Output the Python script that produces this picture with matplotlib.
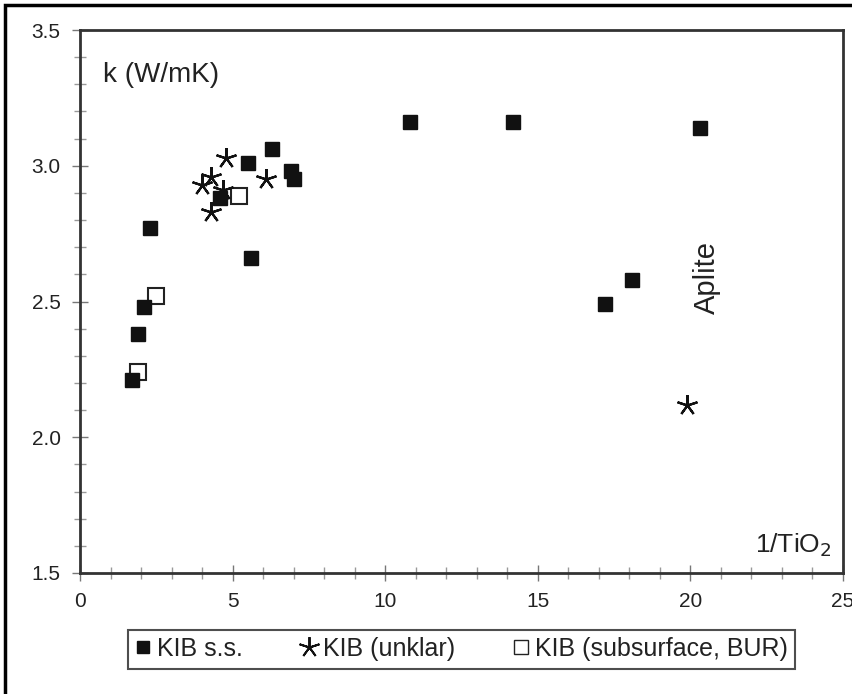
import matplotlib.pyplot as plt
from matplotlib.lines import Line2D
from matplotlib.patches import Rectangle

plt.rcParams['font.family'] = ['Liberation Sans', 'DejaVu Sans']

# KIB s.s. (filled squares)
ss_x = [1.7, 1.9, 2.1, 2.3, 4.6, 5.5, 6.3, 6.9, 7.0, 5.6, 10.8, 14.2, 17.2, 18.1, 20.3]
ss_y = [2.21, 2.38, 2.48, 2.77, 2.88, 3.01, 3.06, 2.98, 2.95, 2.66, 3.16, 3.16, 2.49, 2.58, 3.14]

# KIB (unklar) (asterisks)
unk_x = [4.8, 4.3, 4.0, 4.3, 4.7, 6.1, 19.9]
unk_y = [3.03, 2.96, 2.93, 2.83, 2.91, 2.95, 2.12]

# KIB (subsurface, BUR) (open squares)
sub_x = [5.2, 2.5, 1.9]
sub_y = [2.89, 2.52, 2.24]

labels = ['KIB s.s.', 'KIB (unklar)', 'KIB (subsurface, BUR)']

W, H = 853, 694
fig = plt.figure(figsize=(W / 100, H / 100), dpi=100)
ax = fig.add_axes([80 / W, 1 - 573 / H, (843 - 80) / W, (573 - 30) / H])

star = (5, 2, 0)
ax.plot(sub_x, sub_y, 's', ms=12, mfc='white', mec='#222222', mew=1.5, ls='none', zorder=2)
ax.plot(unk_x, unk_y, marker=star, ms=15, color='#111111', mew=1.6, ls='none', zorder=3)
ax.plot(ss_x, ss_y, 's', ms=10, color='#111111', ls='none', zorder=4)

ax.set_xlim(0, 25)
ax.set_ylim(1.5, 3.5)
ax.set_xticks([0, 5, 10, 15, 20, 25])
ax.set_yticks([1.5, 2.0, 2.5, 3.0, 3.5])
ax.set_yticklabels(['1.5', '2.0', '2.5', '3.0', '3.5'])
ax.set_xticks(range(0, 26), minor=True)
ax.set_yticks([1.5 + 0.1 * i for i in range(21)], minor=True)
ax.tick_params(which='major', direction='inout', length=12, width=1, color='#777777',
               labelsize=15, labelcolor='#222222', pad=8)
ax.tick_params(which='minor', direction='inout', length=8, width=1, color='#999999')
for s in ax.spines.values():
    s.set_linewidth(2)
    s.set_color('#333333')

ax.text(0.03, 0.905, 'k (W/mK)', transform=ax.transAxes, fontsize=20, color='#222222')
ax.text(0.985, 0.025, '1/TiO$_2$', transform=ax.transAxes, fontsize=19, color='#222222',
        ha='right', va='bottom')
ax.text(20.55, 2.59, 'Aplite', rotation=90, fontsize=21, color='#222222', ha='center', va='center')

handles = [
    Line2D([], [], marker='s', ms=8, color='#111111', ls='none'),
    Line2D([], [], marker=star, ms=15, color='#111111', mew=1.4, ls='none'),
    Line2D([], [], marker='s', ms=10, mfc='white', mec='#222222', mew=1, ls='none'),
]
leg = fig.legend(handles, labels, ncol=3, loc='center', mode='expand',
                 bbox_to_anchor=(128 / W, 1 - 670 / H, (795 - 128) / W, 42 / H), fontsize=18,
                 frameon=True, fancybox=False, edgecolor='#222222',
                 handlelength=0.6, handletextpad=0.25, columnspacing=1.0,
                 borderpad=0.3, borderaxespad=0)
leg.get_frame().set_linewidth(1.5)
for t in leg.get_texts():
    t.set_color('#222222')

fig.patches.append(Rectangle((5 / W, -0.1), 1.2, 1 - 5 / H + 0.1, transform=fig.transFigure,
                             fill=False, edgecolor='black', linewidth=2.5))

fig.savefig('out.png', dpi=100)
